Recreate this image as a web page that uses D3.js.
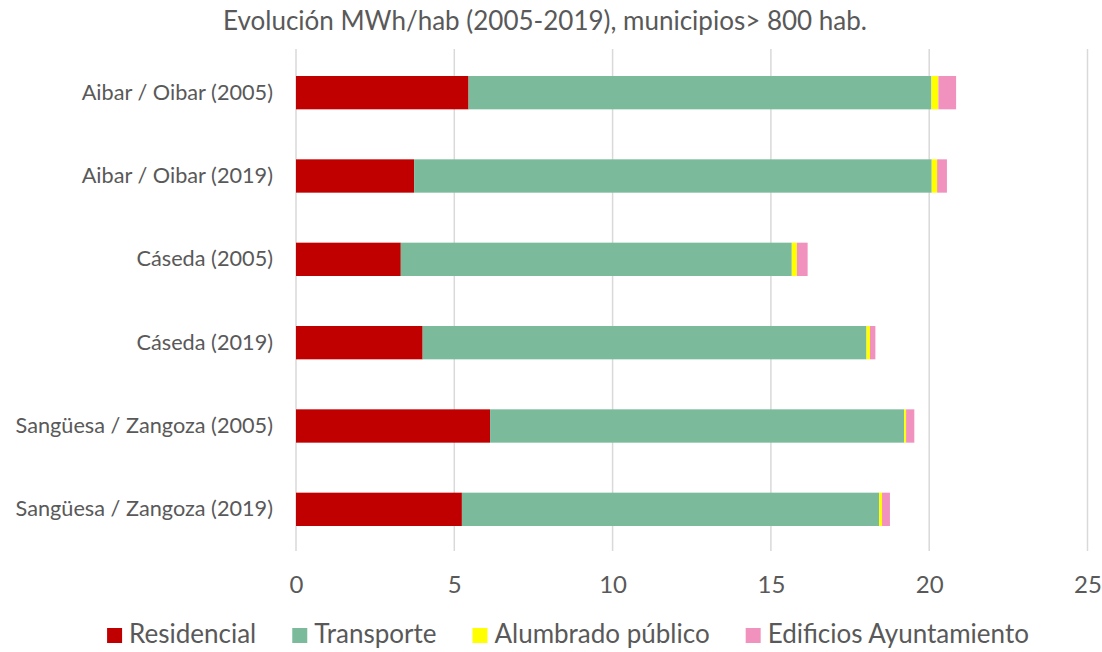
<!DOCTYPE html>
<html>
<head>
<meta charset="utf-8">
<script src="https://cdn.jsdelivr.net/npm/d3@7"></script>
<style>
  body { margin: 0; background: #fff; }
  text { font-family: Lato, 'Noto Sans', sans-serif; fill: #595959; }
</style>
</head>
<body>
<script>
// chart values (MWh/hab)
var categories = ['Aibar / Oibar (2005)', 'Aibar / Oibar (2019)', 'Cáseda (2005)', 'Cáseda (2019)', 'Sangüesa / Zangoza (2005)', 'Sangüesa / Zangoza (2019)'];
var residencial = [5.45, 3.73, 3.31, 4.00, 6.13, 5.24];
var transporte = [14.62, 16.35, 12.35, 14.02, 13.08, 13.18];
var alumbrado = [0.22, 0.17, 0.16, 0.11, 0.06, 0.09];
var edificios = [0.56, 0.31, 0.34, 0.17, 0.26, 0.25];
var seriesNames = ['Residencial', 'Transporte', 'Alumbrado público', 'Edificios Ayuntamiento'];
var ticks = [0, 5, 10, 15, 20, 25];
var colors = ['#C00000', '#7BBB9C', '#FFFF00', '#F192BE'];

var width = 1102, height = 652;
var margin = { top: 51, right: 15, bottom: 101, left: 296 };

var svg = d3.select('body').append('svg')
    .attr('width', width)
    .attr('height', height);

var x = d3.scaleLinear()
    .domain([0, 25])
    .range([margin.left, 1087.5]);
var y = d3.scaleBand()
    .domain(categories)
    .range([margin.top, height - margin.bottom])
    .paddingInner(0.6)
    .paddingOuter(0.3);

// table for the stack
var table = categories.map(function(c, i) {
  return { cat: c, 'Residencial': residencial[i], 'Transporte': transporte[i],
           'Alumbrado público': alumbrado[i], 'Edificios Ayuntamiento': edificios[i] };
});
var stacked = d3.stack().keys(seriesNames)(table);

// title
svg.append('text')
    .attr('x', 545)
    .attr('y', 30)
    .attr('text-anchor', 'middle')
    .style('font-size', '26px')
    .text('Evolución MWh/hab (2005-2019), municipios> 800 hab.');

// vertical gridlines
svg.append('g')
  .selectAll('line')
    .data(ticks)
  .enter().append('line')
    .attr('x1', function(d) { return x(d); })
    .attr('x2', function(d) { return x(d); })
    .attr('y1', margin.top - 2)
    .attr('y2', height - margin.bottom)
    .attr('stroke', '#D9D9D9')
    .attr('stroke-width', 1.5);

// bars
svg.append('g')
  .selectAll('g')
    .data(stacked)
  .enter().append('g')
    .attr('fill', function(d, i) { return colors[i]; })
  .selectAll('rect')
    .data(function(d) { return d; })
  .enter().append('rect')
    .attr('x', function(d) { return x(d[0]); })
    .attr('width', function(d) { return x(d[1]) - x(d[0]); })
    .attr('y', function(d) { return y(d.data.cat); })
    .attr('height', y.bandwidth());

// x axis labels
var xAxis = d3.axisBottom(x).tickValues(ticks).tickSize(0).tickPadding(17);
svg.append('g')
    .attr('transform', 'translate(0,' + (height - margin.bottom + 8) + ')')
    .call(xAxis)
    .call(function(g) { g.select('.domain').remove(); })
    .selectAll('text')
      .style('font-size', '24px')
      .attr('fill', '#595959');

// category labels
var yAxis = d3.axisLeft(y).tickSize(0).tickPadding(23);
svg.append('g')
    .attr('transform', 'translate(' + margin.left + ',0)')
    .call(yAxis)
    .call(function(g) { g.select('.domain').remove(); })
    .selectAll('text')
      .style('font-size', '21.7px')
      .attr('fill', '#595959');

// legend
var legend = svg.append('g');
var items = legend.selectAll('g')
    .data(seriesNames)
  .enter().append('g');
items.append('rect')
    .attr('width', 15)
    .attr('height', 15)
    .attr('y', -15)
    .attr('fill', function(d, i) { return colors[i]; });
items.append('text')
    .attr('x', 22)
    .style('font-size', '26px')
    .text(function(d) { return d; });
var xpos = 0;
items.each(function() {
  var w = this.getBBox().width;
  d3.select(this).attr('transform', 'translate(' + xpos + ',0)');
  xpos += w + 36;
});
var total = xpos - 36;
legend.attr('transform', 'translate(' + (568 - total / 2) + ',643)');
</script>
</body>
</html>
